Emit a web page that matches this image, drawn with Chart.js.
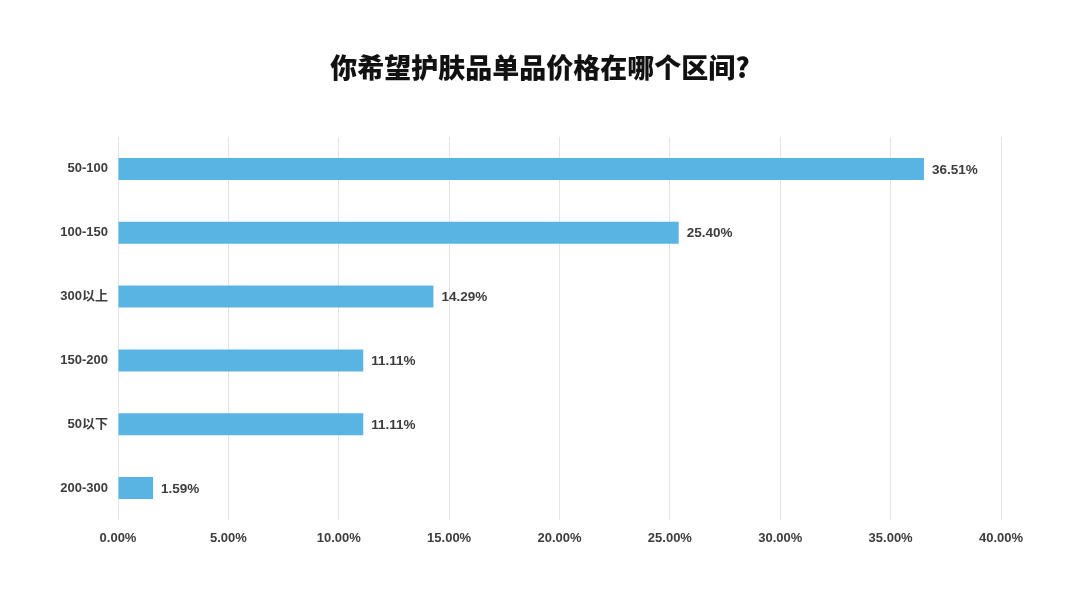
<!DOCTYPE html>
<html lang="zh">
<head>
    <meta charset="UTF-8">
    <title>你希望护肤品单品价格在哪个区间?</title>
    <script src="https://cdn.jsdelivr.net/npm/chart.js"></script>
    <style>
        html, body { margin: 0; padding: 0; background: #fff; }
        #wrap { width: 1080px; height: 608px; }
    </style>
</head>
<body>
    <div id="wrap"><canvas id="priceChart" width="1080" height="608"></canvas></div>

    <script>
        // Data
        const categories = ['50-100', '100-150', '300以上', '150-200', '50以下', '200-300'];
        const shares = [36.51, 25.40, 14.29, 11.11, 11.11, 1.59];
        const xTicks = [0, 5, 10, 15, 20, 25, 30, 35, 40];
        const chartTitle = '你希望护肤品单品价格在哪个区间?';

        const labelFont = "'Liberation Sans', 'Noto Sans CJK SC', Arial, sans-serif";

        // title centred on the whole canvas + value labels at bar ends
        const decorations = {
            id: 'decorations',
            afterDatasetsDraw(chart) {
                const ctx = chart.ctx;
                const meta = chart.getDatasetMeta(0);
                ctx.save();
                ctx.font = "bold 13.5px " + labelFont;
                ctx.fillStyle = '#3c3c3c';
                ctx.textBaseline = 'middle';
                ctx.textAlign = 'left';
                meta.data.forEach((bar, i) => {
                    ctx.fillText(shares[i].toFixed(2) + '%', bar.x + 8, bar.y + 1);
                });

                ctx.font = "900 27px 'Noto Sans CJK SC', sans-serif";
                ctx.fillStyle = '#111';
                ctx.textAlign = 'center';
                ctx.fillText(chartTitle, 540, 68);
                ctx.restore();
            }
        };

        const ctx = document.getElementById('priceChart').getContext('2d');
        new Chart(ctx, {
            type: 'bar',
            data: {
                labels: categories,
                datasets: [{
                    data: shares,
                    backgroundColor: '#58b5e3',
                    barPercentage: 0.69,
                    categoryPercentage: 0.5
                }]
            },
            options: {
                indexAxis: 'y',
                responsive: false,
                animation: false,
                layout: { padding: { left: 0, right: 79, top: 137, bottom: 0 } },
                plugins: {
                    legend: { display: false },
                    tooltip: { enabled: false },
                    title: { display: false }
                },
                scales: {
                    x: {
                        min: 0,
                        max: 40,
                        afterBuildTicks(axis) {
                            axis.ticks = xTicks.map(v => ({ value: v }));
                        },
                        afterFit(axis) { axis.height = 88; },
                        grid: { color: '#e3e3e3', drawTicks: false },
                        border: { display: false },
                        ticks: {
                            padding: 11,
                            color: '#3c3c3c',
                            font: { family: labelFont, size: 13, weight: 'bold' },
                            callback: v => v.toFixed(2) + '%'
                        }
                    },
                    y: {
                        afterFit(axis) { axis.width = 118; },
                        grid: { display: false, drawTicks: false },
                        border: { display: false },
                        ticks: {
                            padding: 10,
                            color: '#3c3c3c',
                            font: { family: labelFont, size: 13, weight: 'bold' }
                        }
                    }
                }
            },
            plugins: [decorations]
        });
    </script>
</body>
</html>
